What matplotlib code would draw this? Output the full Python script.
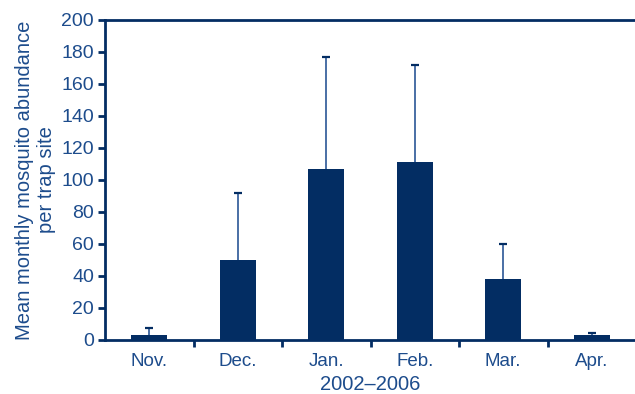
import matplotlib.pyplot as plt

months = ['Nov.', 'Dec.', 'Jan.', 'Feb.', 'Mar.', 'Apr.']
means = [3, 50, 107, 111, 38, 3]
upper_err = [4.5, 42, 70, 61, 22, 1.5]

BAR = '#032d63'
TEXT = '#1d4c8c'
ERR = '#4a6fa5'

plt.rcParams['font.family'] = ['Liberation Sans', 'DejaVu Sans']

fig = plt.figure(figsize=(6.35, 3.94), dpi=100)
ax = fig.add_axes([105 / 635, 54 / 394, 531 / 635, 320 / 394])

x = list(range(len(months)))
tops = [m + e for m, e in zip(means, upper_err)]
ax.bar(x, means, width=0.41, color=BAR, zorder=3)
ax.vlines(x, means, tops, color=ERR, linewidth=1.4, zorder=2)
ax.plot(x, tops, linestyle='none', marker='_', markersize=6,
        markeredgewidth=1.6, color=BAR, zorder=2)

ax.set_xlim(-0.5, 5.5)
ax.set_ylim(0, 200)
ax.set_yticks(range(0, 201, 20))
ax.set_xticks(x)
ax.set_xticklabels(months)
ax.set_xticks([i + 0.5 for i in range(5)], minor=True)

for side in ['left', 'bottom', 'top']:
    ax.spines[side].set_color(BAR)
    ax.spines[side].set_linewidth(2)
ax.spines['right'].set_visible(False)

ax.tick_params(axis='y', colors=BAR, labelcolor=TEXT, labelsize=14,
               length=5, width=2, pad=3)
ax.tick_params(axis='x', which='major', length=0, labelcolor=TEXT,
               labelsize=13.5, pad=9)
ax.tick_params(axis='x', which='minor', length=5, width=2, colors=BAR)

ax.set_ylabel('Mean monthly mosquito abundance\nper trap site',
              color=TEXT, fontsize=14.5, linespacing=1.2, labelpad=4)
ax.set_xlabel('2002\u20132006', color=TEXT, fontsize=14.5, labelpad=4)

fig.savefig('out.png', dpi=100)
